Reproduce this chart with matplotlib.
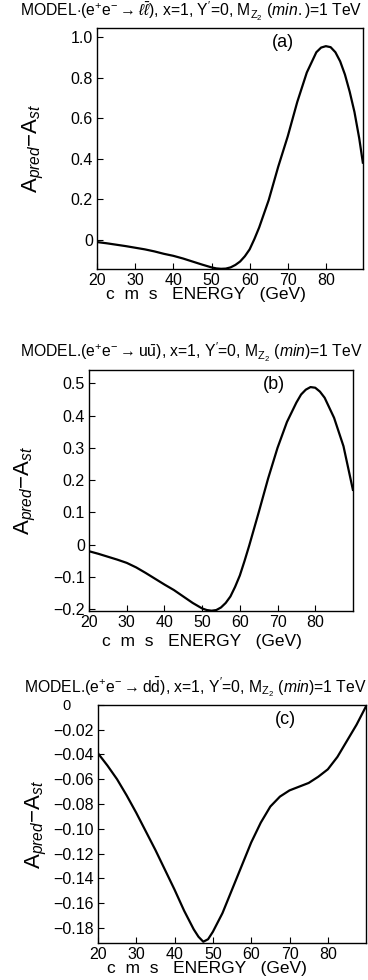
import numpy as np
import matplotlib
matplotlib.use("Agg")
import matplotlib.pyplot as plt

plt.rcParams['font.family'] = ['Liberation Sans', 'DejaVu Sans']
plt.rcParams['mathtext.fontset'] = 'custom'
plt.rcParams['mathtext.rm'] = 'Liberation Sans'
plt.rcParams['mathtext.it'] = 'Liberation Sans:italic'

# energies (GeV) and asymmetry differences
energy_a = [20, 22.5, 25, 27.5, 30, 32.5, 35, 37.5, 40, 42.5, 45, 47.5, 50, 51.25,
            52.5, 53.75, 55, 56.25, 57.5, 58.75, 60, 61.25, 62.5, 65, 67.5, 70, 72.5,
            75, 77.5, 78.75, 80, 81.25, 82.5, 83.75, 85, 86.25, 87.5, 88.75, 89.7]
asym_a = [-0.012, -0.018, -0.025, -0.032, -0.040, -0.048, -0.058, -0.070, -0.080,
          -0.093, -0.108, -0.123, -0.137, -0.142, -0.144, -0.143, -0.137, -0.125,
          -0.108, -0.082, -0.048, 0.003, 0.06, 0.195, 0.36, 0.51, 0.68, 0.825,
          0.925, 0.948, 0.955, 0.95, 0.925, 0.88, 0.815, 0.73, 0.63, 0.50, 0.38]

energy_b = [20, 22.5, 25, 27.5, 30, 32.5, 35, 37.5, 40, 42.5, 45, 47.5, 50, 51.25,
            52.5, 53.75, 55, 56.25, 57.5, 58.75, 60, 61.25, 62.5, 65, 67.5, 70, 72.5,
            75, 76.25, 77.5, 78.75, 80, 81.25, 82.5, 85, 87.5, 90]
asym_b = [-0.020, -0.028, -0.037, -0.046, -0.056, -0.070, -0.087, -0.105, -0.123,
          -0.140, -0.160, -0.180, -0.197, -0.202, -0.204, -0.202, -0.194, -0.180,
          -0.160, -0.130, -0.095, -0.050, -0.002, 0.10, 0.205, 0.30, 0.38, 0.44,
          0.465, 0.48, 0.488, 0.486, 0.474, 0.455, 0.393, 0.305, 0.17]

energy_c = [20, 22.5, 25, 27.5, 30, 32.5, 35, 37.5, 40, 42.5, 45, 46.25, 47.5, 48.75,
            50, 52.5, 55, 57.5, 60, 62.5, 65, 67.5, 70, 72.5, 75, 77.5, 80, 82.5, 85,
            87.5, 90]
asym_c = [-0.039, -0.049, -0.060, -0.073, -0.087, -0.102, -0.117, -0.133, -0.149,
          -0.166, -0.181, -0.187, -0.191, -0.189, -0.183, -0.168, -0.149, -0.130,
          -0.111, -0.095, -0.082, -0.074, -0.069, -0.066, -0.063, -0.058, -0.052,
          -0.042, -0.029, -0.016, -0.001]

xticks = [20, 30, 40, 50, 60, 70, 80]
yticks_a = [0, 0.2, 0.4, 0.6, 0.8, 1.0]
ylabels_a = ['0', '0.2', '0.4', '0.6', '0.8', '1.0']
yticks_b = [-0.2, -0.1, 0, 0.1, 0.2, 0.3, 0.4, 0.5]
ylabels_b = ['\u22120.2', '\u22120.1', '0', '0.1', '0.2', '0.3', '0.4', '0.5']
yticks_c = [-0.18, -0.16, -0.14, -0.12, -0.10, -0.08, -0.06, -0.04, -0.02, 0]
ylabels_c = ['\u22120.18', '\u22120.16', '\u22120.14', '\u22120.12', '\u22120.10',
             '\u22120.08', '\u22120.06', '\u22120.04', '\u22120.02', '']

titles = [
    r'MODEL$\cdot$(e$^{+}$e$^{-}$$\rightarrow$$\ell\bar{\ell}$), x=1, Y$^{\prime}$=0, M$_{\mathrm{Z_2}}$ ($\it{min.}$)=1 TeV',
    r'MODEL.(e$^{+}$e$^{-}$$\rightarrow$u$\bar{\mathrm{u}}$), x=1, Y$^{\prime}$=0, M$_{\mathrm{Z_2}}$ ($\it{min}$)=1 TeV',
    r'MODEL.(e$^{+}$e$^{-}$$\rightarrow$d$\bar{\mathrm{d}}$), x=1, Y$^{\prime}$=0, M$_{\mathrm{Z_2}}$ ($\it{min}$)=1 TeV',
]
panel_tags = ['(a)', '(b)', '(c)']
ylabel = r'A$_{\it{pred}}$$-$A$_{\it{st}}$'
xlabel = 'c  m  s   ENERGY   (GeV)'

fig = plt.figure(figsize=(3.68, 9.8), dpi=100)

# axes boxes in figure fractions [left, bottom, width, height]
boxes = [[0.264, 0.7255, 0.722, 0.246],
         [0.242, 0.3765, 0.717, 0.246],
         [0.266, 0.0378, 0.729, 0.243]]
ylims = [(-0.145, 1.045), (-0.205, 0.541), (-0.192, 0.0)]
xlims = [(20, 89.7), (20, 90), (20, 90)]
data = [(energy_a, asym_a, yticks_a, ylabels_a),
        (energy_b, asym_b, yticks_b, ylabels_b),
        (energy_c, asym_c, yticks_c, ylabels_c)]
title_y = [0.988, 0.640, 0.2985]
title_x = [0.52, 0.52, 0.53]
xlabel_y = [0.700, 0.345, 0.012]
xlabel_x = [0.56, 0.548, 0.562]
ylabel_x = [0.09, 0.068, 0.10]

for i in range(3):
    ax = fig.add_axes(boxes[i])
    e, a, yt, yl = data[i]
    ax.plot(e, a, color='black', lw=1.6, solid_joinstyle='round')
    ax.set_xlim(*xlims[i])
    ax.set_ylim(*ylims[i])
    ax.set_xticks(xticks)
    ax.set_yticks(yt)
    ax.set_yticklabels(yl)
    ax.tick_params(direction='in', length=4, width=0.8, labelsize=11.5, pad=3)
    for s in ax.spines.values():
        s.set_linewidth(1.0)
    ax.text(0.70, 0.94, panel_tags[i], transform=ax.transAxes, fontsize=13,
            ha='center', va='center')
    fig.text(title_x[i], title_y[i], titles[i], ha='center', va='center', fontsize=11.3)
    fig.text(xlabel_x[i], xlabel_y[i], xlabel, ha='center', va='center', fontsize=12.5)
    fig.text(ylabel_x[i], boxes[i][1] + boxes[i][3] / 2, ylabel, rotation=90,
             ha='center', va='center', fontsize=16)

# the zero label of panel (c) sits left of the top corner
fig.text(0.182, 0.2795, '0', ha='center', va='center', fontsize=10.5)

fig.savefig('out.png', dpi=100)
